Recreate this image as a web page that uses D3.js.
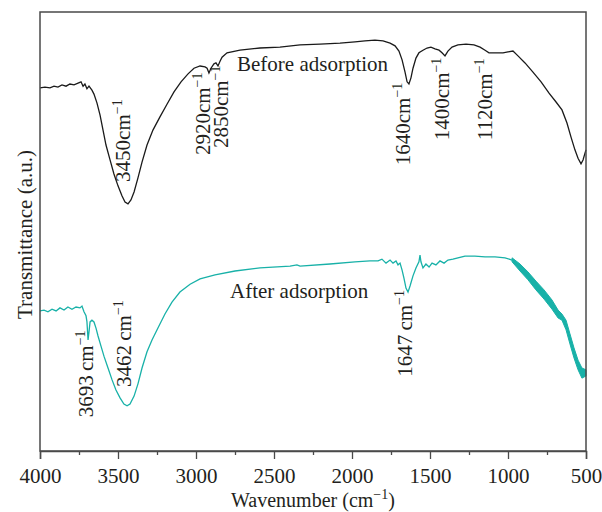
<!DOCTYPE html>
<html>
<head>
<meta charset="utf-8">
<script src="https://cdn.jsdelivr.net/npm/d3@7"></script>
<style>
  body { margin: 0; background: #fff; }
  svg text { font-family: "Liberation Serif", "DejaVu Serif", serif; fill: #231f20; }
</style>
</head>
<body>
<div id="chart"></div>
<script>
// x axis ticks (cm-1)
var majorTicks = [4000, 3500, 3000, 2500, 2000, 1500, 1000, 500]
var minorTicks = [3750, 3250, 2750, 2250, 1750, 1250, 750]

// spectrum before adsorption: [wavenumber, transmittance a.u.]
var before = [
  [4000, 82.7], [3968, 82.9], [3936, 82.7], [3910, 83.1], [3885, 82.9], [3859, 83.4],
  [3833, 83.1], [3808, 83.6], [3782, 83.4], [3756, 83.8], [3737, 84.1], [3724, 83.1],
  [3712, 83.6], [3699, 82.5], [3686, 83.1], [3667, 82.2], [3654, 81.3], [3635, 79.3],
  [3615, 76.5], [3596, 73.1], [3577, 69.7], [3551, 66.3], [3526, 63.1], [3500, 60.4],
  [3474, 58.1], [3455, 56.7], [3436, 56.3], [3417, 57.2], [3397, 59.0], [3372, 62.2],
  [3346, 65.8], [3314, 69.7], [3276, 73.1], [3231, 76.1], [3186, 79.0], [3141, 81.8],
  [3096, 84.1], [3051, 85.9], [3013, 87.2], [2974, 87.7], [2942, 87.5], [2929, 87.2],
  [2917, 86.1], [2904, 87.2], [2885, 88.2], [2872, 88.4], [2859, 87.7], [2846, 88.8],
  [2833, 89.7], [2801, 90.7], [2718, 91.3], [2590, 91.8], [2462, 92.0], [2333, 92.5],
  [2205, 92.7], [2077, 92.9], [1981, 93.2], [1917, 93.4], [1853, 93.6], [1801, 93.4],
  [1756, 92.9], [1724, 92.3], [1699, 91.1], [1679, 89.1], [1660, 86.3], [1647, 84.1],
  [1635, 83.6], [1622, 85.0], [1609, 87.2], [1590, 89.5], [1571, 90.7], [1545, 91.3],
  [1519, 91.8], [1494, 92.0], [1468, 91.6], [1442, 91.3], [1423, 90.7], [1404, 90.0],
  [1385, 91.1], [1359, 92.0], [1321, 92.5], [1269, 92.7], [1218, 92.5], [1179, 92.0],
  [1147, 91.3], [1122, 90.7], [1096, 90.7], [1071, 90.7], [1032, 90.7], [1000, 90.9],
  [968, 91.1], [936, 90.0], [891, 88.4], [840, 86.3], [788, 84.1], [737, 81.5],
  [692, 79.5], [654, 77.7], [622, 74.7], [596, 71.5], [571, 68.6], [551, 66.7],
  [532, 65.4], [519, 66.3], [506, 67.9], [500, 68.6]
]

// spectrum after adsorption: [wavenumber, transmittance a.u.]
var after = [
  [4000, 31.9], [3974, 32.1], [3949, 31.7], [3923, 32.3], [3897, 31.9], [3872, 32.6],
  [3846, 32.1], [3821, 32.8], [3795, 32.3], [3769, 32.8], [3744, 32.6], [3731, 33.0],
  [3718, 31.7], [3705, 30.8], [3699, 29.4], [3692, 25.3], [3686, 27.1], [3679, 29.4],
  [3667, 29.8], [3654, 29.4], [3641, 28.0], [3628, 26.2], [3609, 23.9], [3590, 21.6],
  [3564, 18.9], [3538, 16.2], [3513, 13.9], [3487, 12.1], [3462, 10.7], [3442, 10.3],
  [3423, 10.7], [3397, 12.5], [3372, 15.3], [3346, 18.9], [3314, 22.6], [3282, 25.3],
  [3244, 28.0], [3199, 31.2], [3154, 33.9], [3103, 36.2], [3038, 38.0], [2974, 39.2],
  [2878, 40.1], [2750, 41.0], [2590, 41.7], [2397, 42.1], [2353, 42.4], [2333, 42.1],
  [2141, 42.6], [1981, 43.1], [1885, 43.3], [1833, 43.3], [1808, 43.7], [1782, 42.8],
  [1756, 43.5], [1737, 42.8], [1718, 43.3], [1705, 42.4], [1692, 42.8], [1679, 41.2],
  [1667, 39.4], [1654, 37.1], [1641, 36.2], [1628, 37.6], [1609, 39.9], [1590, 41.7],
  [1571, 43.1], [1564, 44.6], [1558, 43.1], [1545, 41.7], [1526, 42.6], [1506, 41.9],
  [1487, 42.8], [1462, 42.4], [1436, 43.3], [1410, 42.8], [1385, 43.5], [1353, 43.7],
  [1321, 44.0], [1276, 44.4], [1212, 44.4], [1147, 44.2], [1083, 44.2], [1019, 44.0],
  [974, 43.5]
]

// noisy low-wavenumber part after adsorption: [wavenumber, upper, lower]
var afterBand = [
  [974, 44.0, 43.1], [923, 42.6, 41.0], [872, 40.8, 39.0], [821, 38.7, 36.7],
  [769, 36.7, 34.6], [718, 34.4, 32.3], [679, 32.1, 30.3], [654, 31.2, 29.8],
  [628, 29.8, 27.6], [603, 26.7, 24.4], [577, 23.5, 21.2], [551, 20.7, 18.5],
  [526, 18.9, 16.6], [500, 18.5, 17.1]
]

// peak labels: [anchor wavenumber, a.u. where text starts, number, spacer]
var beforeLabels = [
  [3423, 61.3, '3450', ''], [2910, 67.4, '2920', ''], [2795, 69.0, '2850', ''],
  [1628, 65.1, '1640', ''], [1378, 70.8, '1400', ''], [1103, 70.8, '1120', '']
]
var afterLabels = [
  [3660, 7.7, '3693', '\u2009'], [3417, 14.6, '3462', '\u2009'], [1615, 16.9, '1647', '\u2009']
]

var m = {left: 40, right: 16, top: 12, bottom: 61}
var w = 602 - m.left - m.right
var h = 512 - m.top - m.bottom

var svg = d3.select('#chart')
  .append('svg')
  .attr('width', 602)
  .attr('height', 512)
  .append('g')
  .attr('transform', 'translate(' + m.left + ',' + m.top + ')')

var x = d3.scaleLinear().domain([4000, 500]).range([0, w])
var y = d3.scaleLinear().domain([0, 100]).range([h, 0])

var black = '#1a1a1a'
var teal = '#18b1a8'

var line = d3.line()
  .x(function(d) { return x(d[0]) })
  .y(function(d) { return y(d[1]) })

svg.append('path')
  .datum(before)
  .attr('d', line)
  .attr('fill', 'none')
  .attr('stroke', black)
  .attr('stroke-width', 1.3)

svg.append('path')
  .datum(after)
  .attr('d', line)
  .attr('fill', 'none')
  .attr('stroke', teal)
  .attr('stroke-width', 1.3)

svg.append('path')
  .datum(afterBand)
  .attr('d', d3.area()
    .x(function(d) { return x(d[0]) })
    .y0(function(d) { return y(d[2]) })
    .y1(function(d) { return y(d[1]) }))
  .attr('fill', teal)
  .attr('stroke', teal)
  .attr('stroke-width', 1)

// frame
svg.append('rect')
  .attr('width', w)
  .attr('height', h)
  .attr('fill', 'none')
  .attr('stroke', '#4a4a4a')
  .attr('stroke-width', 1.5)

// x axis
var xAxis = svg.append('g')
  .attr('transform', 'translate(0,' + h + ')')
  .call(d3.axisBottom(x).tickValues(majorTicks).tickSize(8).tickPadding(9).tickFormat(d3.format('d')))
xAxis.select('.domain').attr('stroke', '#4a4a4a').attr('stroke-width', 1.5)
xAxis.selectAll('line').attr('stroke', '#4a4a4a').attr('stroke-width', 1.3)
xAxis.selectAll('text').style('font-size', '21px').attr('fill', '#231f20')

var xMinor = svg.append('g')
  .attr('transform', 'translate(0,' + h + ')')
  .call(d3.axisBottom(x).tickValues(minorTicks).tickSize(4).tickFormat(''))
xMinor.select('.domain').remove()
xMinor.selectAll('line').attr('stroke', '#4a4a4a').attr('stroke-width', 1.3)

// axis titles
var xt = svg.append('text')
  .attr('x', w / 2)
  .attr('y', h + 56)
  .attr('text-anchor', 'middle')
  .style('font-size', '20px')
xt.append('tspan').text('Wavenumber (cm')
xt.append('tspan').text('\u22121').attr('dy', -8).style('font-size', '14px')
xt.append('tspan').text(')').attr('dy', 8)

svg.append('text')
  .attr('transform', 'translate(' + (-8) + ',' + (h / 2 + 3) + ') rotate(-90)')
  .attr('text-anchor', 'middle')
  .style('font-size', '21px')
  .text('Transmittance (a.u.)')

// series names
svg.append('text')
  .attr('x', x(2737))
  .attr('y', y(86.6))
  .style('font-size', '21px')
  .text('Before adsorption')

svg.append('text')
  .attr('x', x(2782))
  .attr('y', y(34.9))
  .style('font-size', '21px')
  .text('After adsorption')

// peak labels
function peakLabel(d) {
  var t = svg.append('text')
    .attr('transform', 'translate(' + x(d[0]) + ',' + y(d[1]) + ') rotate(-90)')
    .style('font-size', '21px')
  t.append('tspan').text(d[2] + d[3] + 'cm')
  t.append('tspan').text('\u22121').attr('dy', -8).style('font-size', '14px')
}
beforeLabels.forEach(peakLabel)
afterLabels.forEach(peakLabel)
</script>
</body>
</html>
